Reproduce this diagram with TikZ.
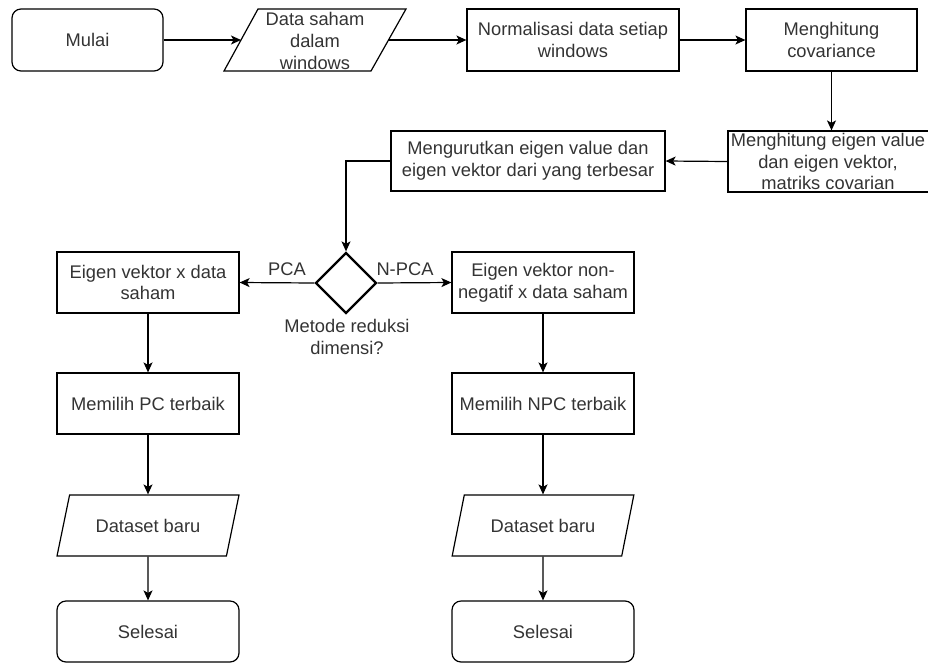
\documentclass[tikz,border=0pt]{standalone}
\usepackage{fontspec}
\setmainfont{Liberation Sans}
\usetikzlibrary{shapes.geometric,arrows.meta}
\definecolor{txt}{RGB}{51,51,51}
\tikzset{
  base/.style={draw=black, line width=1.2pt, inner sep=0pt, align=center, text=txt,
    font=\fontsize{18.3}{21.7}\selectfont},
  box/.style={base, rectangle, minimum width=182pt, minimum height=61pt},
  term/.style={box, rounded corners=9pt},
  io/.style={base, trapezium, trapezium left angle=#1, trapezium right angle=180-#1,
    trapezium stretches=true, minimum width=182pt, minimum height=61pt},
  lbl/.style={inner sep=0pt, align=center, text=txt, font=\fontsize{18.3}{21.7}\selectfont},
  arr/.style={draw=black, line width=1.2pt, -{Stealth[length=10pt,width=9pt,inset=2.5pt]}},
}
\begin{document}
\begin{tikzpicture}[x=1pt,y=-1pt]
\useasboundingbox (0,0) rectangle (928,664);
\clip (0,0) rectangle (928,664);
% top row
\node[term, minimum width=151pt, minimum height=62pt] (mulai) at (87.5,40) {Mulai};
\node[base, draw=none, minimum width=182pt, minimum height=62pt] (data) at (315,40) {};
\draw[line width=1.2pt] (224,71) -- (258,9) -- (406,9) -- (371,71) -- cycle;
\node[lbl] (datat) at (315,41) {Data saham\\dalam\\windows};
\coordinate (dataw) at (241,40);
\coordinate (datae) at (388.5,40);
\node[box, minimum width=212pt, minimum height=62pt] (norm) at (573,40) {Normalisasi data setiap\\windows};
\node[box, minimum width=171pt, minimum height=62pt] (cov) at (831.5,40) {Menghitung\\covariance};
% second row
\node[box, minimum width=204pt, minimum height=61pt] (eig) at (830,161.5) {};
\node[lbl] (eigt) at (828,161.5) {Menghitung eigen value\\dan eigen vektor,\\matriks covarian};
\node[box, minimum width=274pt, minimum height=60pt] (urut) at (528,161) {Mengurutkan eigen value dan\\eigen vektor dari yang terbesar};
% decision
\node[base, diamond, line width=2.3pt, minimum width=61pt, minimum height=61pt, aspect=1] (dia) at (346,283) {};
\node[lbl] (pca) at (287,269) {PCA};
\node[lbl] (npca) at (405,269) {N-PCA};
\node[lbl] (metode) at (347,337) {Metode reduksi\\dimensi?};
% left column
\node[box] (ev1) at (148,282.5) {Eigen vektor x data\\saham};
\node[box] (pc1) at (148,403.5) {Memilih PC terbaik};
\node[io=58] (ds1) at (148,525.5) {Dataset baru};
\node[term] (sel1) at (148,631.5) {Selesai};
% right column
\node[box] (ev2) at (543,282.5) {Eigen vektor non-\\negatif x data saham};
\node[box] (pc2) at (543,403.5) {Memilih NPC terbaik};
\node[io=59] (ds2) at (543,525.5) {Dataset baru};
\node[term] (sel2) at (543,631.5) {Selesai};
% connectors
\draw[arr] (mulai) -- (dataw);
\draw[arr] (datae) -- (norm);
\draw[arr] (norm) -- (cov);
\draw[arr] (cov.south) -- (cov.south |- eig.north);
\draw[arr] (eig.west) -- (urut.east);
\draw[arr] (urut.west) -| (dia.north);
\draw[arr] (dia.west) -- (ev1.east);
\draw[arr] (dia.east) -- (ev2.west);
\draw[arr] (ev1) -- (pc1);
\draw[arr] (pc1) -- (ds1);
\draw[arr] (ds1) -- (sel1);
\draw[arr] (ev2) -- (pc2);
\draw[arr] (pc2) -- (ds2);
\draw[arr] (ds2) -- (sel2);
\end{tikzpicture}
\end{document}
